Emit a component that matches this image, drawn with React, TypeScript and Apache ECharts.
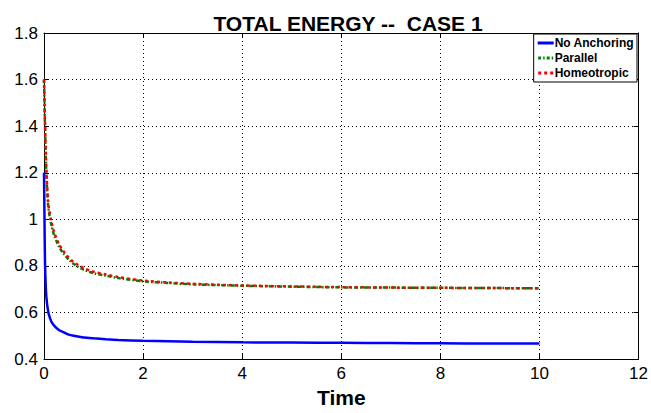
import React, { useEffect, useRef } from "react";
import * as echarts from "echarts";

const titleText = "TOTAL ENERGY --  CASE 1";
const xLabel = "Time";
const seriesNames = ["No Anchoring", "Parallel", "Homeotropic"];

const times = [0, 0.01, 0.02, 0.04, 0.06, 0.08, 0.1, 0.15, 0.2, 0.3, 0.4, 0.5, 0.6, 0.8, 1.0, 1.25, 1.5, 2, 2.5, 3, 4, 5, 6, 7, 8, 9, 10];
const noAnchoring = [1.2, 1.0, 0.82, 0.69, 0.64, 0.61, 0.59, 0.56, 0.545, 0.525, 0.515, 0.505, 0.5, 0.493, 0.489, 0.485, 0.482, 0.479, 0.477, 0.475, 0.472, 0.471, 0.47, 0.469, 0.468, 0.467, 0.467];
const parallel = [1.6, 1.5, 1.4, 1.24, 1.14, 1.07, 1.03, 0.975, 0.935, 0.884, 0.851, 0.827, 0.808, 0.784, 0.769, 0.758, 0.748, 0.734, 0.727, 0.721, 0.715, 0.711, 0.708, 0.707, 0.706, 0.705, 0.704];
const homeotropic = [1.6, 1.51, 1.42, 1.26, 1.16, 1.085, 1.045, 0.99, 0.948, 0.895, 0.861, 0.836, 0.816, 0.791, 0.775, 0.763, 0.752, 0.737, 0.729, 0.723, 0.716, 0.712, 0.709, 0.707, 0.706, 0.705, 0.704];

const font = "Liberation Sans, Arial, Helvetica, sans-serif";

const legendIcons = [
  "path://M0,0h16v3h-16z",
  "path://M0,0h3v3h-3z M5,0h1.5v3h-1.5z M8.5,0h3v3h-3z M13.5,0h1.5v3h-1.5z",
  "path://M0,0h3v3h-3z M6,0h3v3h-3z M12,0h3v3h-3z",
];

function zip(ys: number[]) {
  return times.map((t, i) => [t, ys[i]]);
}

export default function App() {
  const ref = useRef<HTMLDivElement>(null);
  useEffect(() => {
    const chart = echarts.init(ref.current!, null, { renderer: "svg" });
    const axisCommon = {
      type: "value" as const,
      axisLine: { show: true, onZero: false, lineStyle: { color: "#000", width: 1 } },
      axisTick: { show: true, inside: true, length: 5, lineStyle: { color: "#000" } },
    };
    const gridLine = { show: true, lineStyle: { color: "#000", type: [1, 3], width: 1 } };
    chart.setOption({
      animation: false,
      backgroundColor: "#fff",
      title: {
        text: titleText,
        left: 343,
        textAlign: "center",
        top: 8,
        textStyle: { fontFamily: font, fontSize: 21, fontWeight: "bold", color: "#000" },
      },
      legend: {
        orient: "vertical",
        right: 14,
        top: 34,
        padding: [3, 3, 3, 4],
        itemGap: 3,
        itemWidth: 16,
        itemHeight: 3,
        borderColor: "#000",
        borderWidth: 1,
        borderRadius: 0,
        backgroundColor: "#fff",
        textStyle: { fontFamily: font, fontSize: 12, fontWeight: "bold", color: "#000", padding: [0, 0, 0, -4] },
        data: [
          { name: seriesNames[0], icon: legendIcons[0], itemStyle: { color: "#0000ff" } },
          { name: seriesNames[1], icon: legendIcons[1], itemStyle: { color: "#008000" } },
          { name: seriesNames[2], icon: legendIcons[2], itemStyle: { color: "#ff0000" } },
        ],
      },
      grid: { left: 44, right: 9, top: 33, bottom: 51, containLabel: false },
      xAxis: [
        {
          ...axisCommon,
          min: 0,
          max: 12,
          interval: 2,
          position: "bottom",
          splitLine: gridLine,
          axisLabel: { fontFamily: font, fontSize: 17, color: "#000", margin: 6 },
          name: xLabel,
          nameLocation: "middle",
          nameGap: 24,
          nameTextStyle: { fontFamily: font, fontSize: 21, fontWeight: "bold", color: "#000" },
        },
        {
          ...axisCommon,
          min: 0,
          max: 12,
          interval: 2,
          position: "top",
          splitLine: { show: false },
          axisLabel: { show: false },
        },
      ],
      yAxis: [
        {
          ...axisCommon,
          min: 0.4,
          max: 1.8,
          interval: 0.2,
          position: "left",
          splitLine: gridLine,
          axisLabel: { fontFamily: font, fontSize: 17, color: "#000", margin: 6 },
        },
        {
          ...axisCommon,
          min: 0.4,
          max: 1.8,
          interval: 0.2,
          position: "right",
          splitLine: { show: false },
          axisLabel: { show: false },
        },
      ],
      series: [
        {
          name: seriesNames[0],
          type: "line",
          data: zip(noAnchoring),
          symbol: "none",
          smooth: 0.3,
          lineStyle: { color: "#0000ff", width: 2.5, type: "solid" },
          itemStyle: { color: "#0000ff" },
        },
        {
          name: seriesNames[1],
          type: "line",
          data: zip(parallel),
          symbol: "none",
          smooth: 0.3,
          lineStyle: { color: "#008000", width: 2.5, type: [4, 2, 1.5, 2] },
          itemStyle: { color: "#008000" },
        },
        {
          name: seriesNames[2],
          type: "line",
          data: zip(homeotropic),
          symbol: "none",
          smooth: 0.3,
          lineStyle: { color: "#ff0000", width: 2.5, type: [3, 3] },
          itemStyle: { color: "#ff0000" },
        },
      ],
    });
    return () => chart.dispose();
  }, []);
  return <div ref={ref} style={{ position: "fixed", left: 0, top: 0, width: 651, height: 413 }} />;
}
